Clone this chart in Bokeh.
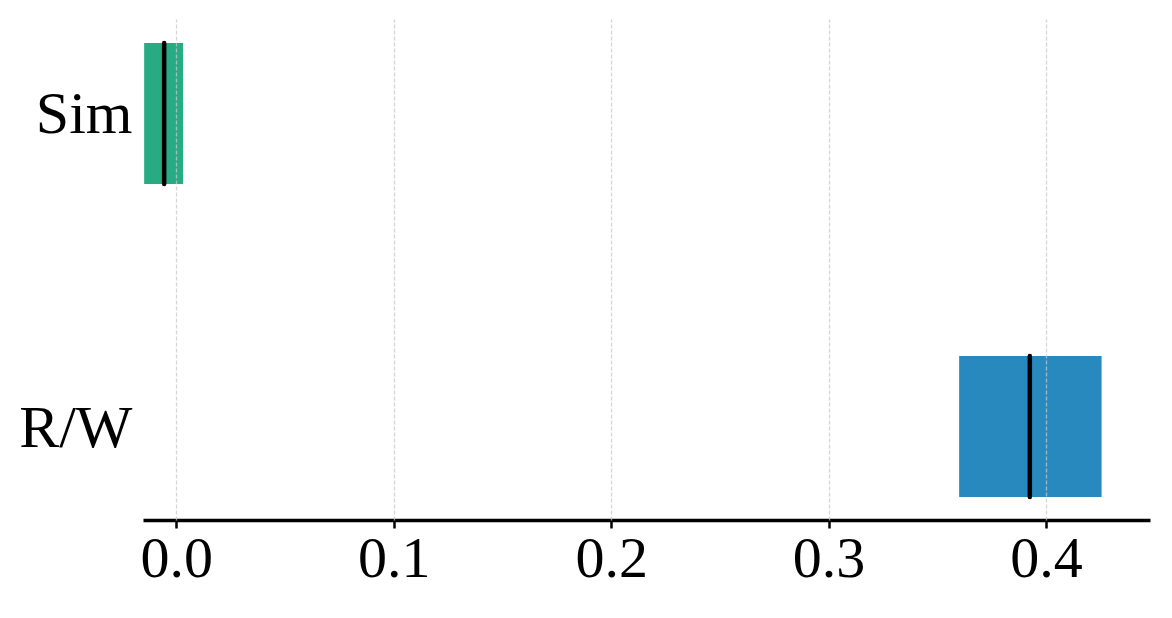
from bokeh.plotting import figure
from bokeh.models import Range1d, FixedTicker, NumeralTickFormatter, ColumnDataSource
from bokeh.embed import file_html
from bokeh.resources import INLINE

categories = ["R/W", "Sim"]
q1 = [0.3598, -0.0150]
q3 = [0.4253, 0.0029]
median = [0.3923, -0.0058]
colors = ["#2889be", "#27ab83"]
x_ticks = [0.0, 0.1, 0.2, 0.3, 0.4]

pos = list(range(len(categories)))
src = ColumnDataSource(dict(y=pos, left=q1, right=q3, med=median, color=colors,
                            y0=[p - 0.225 for p in pos], y1=[p + 0.225 for p in pos]))

p = figure(frame_width=1007, frame_height=501, output_backend="svg", toolbar_location=None,
           x_range=Range1d(-0.0153, 0.4478), y_range=Range1d(-0.3, 1.3),
           min_border_left=143, min_border_right=10, min_border_top=19, min_border_bottom=90)
p.outline_line_color = None
p.background_fill_color = "white"

p.hbar(y="y", left="left", right="right", height=0.45, fill_color="color", line_color=None, source=src)
p.segment(x0="med", y0="y0", x1="med", y1="y1", line_color="black", line_width=4.5,
          line_cap="round", source=src)

p.xgrid.ticker = FixedTicker(ticks=x_ticks)
p.xgrid.grid_line_color = "#c8c8c8"
p.xgrid.grid_line_alpha = 0.75
p.xgrid.grid_line_dash = "4 2"
p.xgrid.grid_line_width = 1.3
p.xgrid.level = "annotation"
p.ygrid.grid_line_color = None

xa = p.xaxis[0]
xa.ticker = FixedTicker(ticks=x_ticks)
xa.formatter = NumeralTickFormatter(format="0.0")
xa.axis_line_width = 3.5
xa.axis_line_color = "black"
xa.major_tick_line_width = 2.5
xa.major_tick_out = 8
xa.major_tick_in = 0
xa.minor_tick_line_color = None
xa.major_label_text_font = "Liberation Serif"
xa.major_label_text_font_size = "58px"
xa.major_label_text_color = "black"
xa.major_label_standoff = 10

ya = p.yaxis[0]
ya.ticker = FixedTicker(ticks=pos)
ya.major_label_overrides = {i: c for i, c in enumerate(categories)}
ya.axis_line_color = None
ya.major_tick_line_color = None
ya.minor_tick_line_color = None
ya.major_label_text_font = "Liberation Serif"
ya.major_label_text_font_size = "60px"
ya.major_label_text_color = "black"
ya.major_label_standoff = 5

open("out.html", "w").write(file_html(p, INLINE))
